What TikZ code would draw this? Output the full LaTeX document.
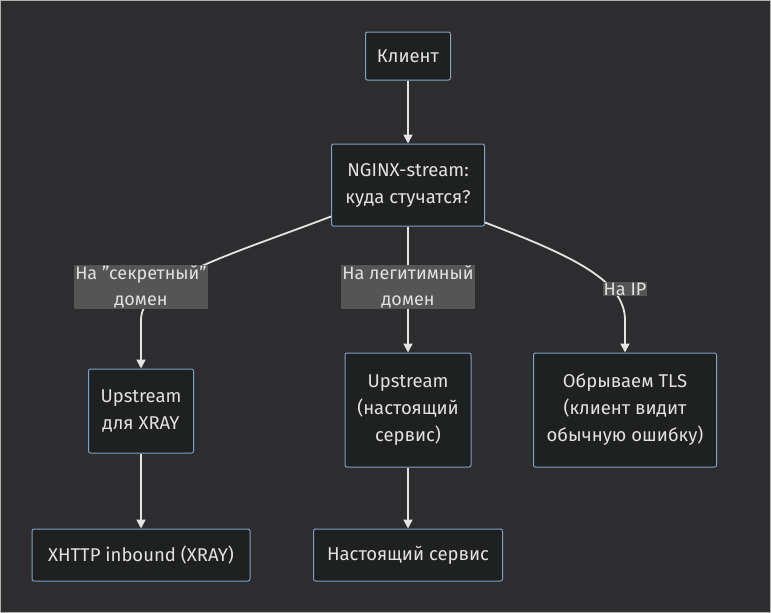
\documentclass[tikz,border=0pt]{standalone}
\usepackage{fontspec}
\setmainfont{Fira Sans}
\usetikzlibrary{arrows.meta, positioning}
\definecolor{canvas}{RGB}{45,45,48}
\definecolor{boxfill}{RGB}{31,32,32}
\definecolor{boxline}{RGB}{129,161,193}
\definecolor{ink}{RGB}{225,225,225}
\definecolor{tagbg}{RGB}{85,85,85}
\tikzset{
  block/.style={rectangle, rounded corners=2pt, draw=boxline, line width=1pt, fill=boxfill,
                text=ink, align=center, font=\fontsize{18.5}{27}\selectfont, inner sep=0pt},
  arrow/.style={-{Triangle[length=9pt,width=9pt]}, line width=1.8pt, color=ink!90},
  tag/.style={fill=tagbg, text=ink, align=center, inner sep=1pt,
              font=\fontsize{18}{26}\selectfont},
}
\begin{document}
\begin{tikzpicture}[x=1pt, y=-1pt]
  \fill[canvas] (0,0) rectangle (771,613);
  \draw[gray!60, line width=1pt] (0.5,0.5) rectangle (770.5,612.5);
  \useasboundingbox (0,0) rectangle (771,613);

  \node[block, minimum width=85pt, minimum height=48pt] (client) at (408,56) {Клиент};
  \node[block, minimum width=153pt, minimum height=82pt] (nginx) at (408,185) {NGINX-stream:\\куда стучатся?};
  \node[block, minimum width=105pt, minimum height=84pt] (upx) at (141,411) {Upstream\\для XRAY};
  \node[block, minimum width=126pt, minimum height=114pt] (upr) at (408,410) {Upstream\\(настоящий\\сервис)};
  \node[block, minimum width=183pt, minimum height=114pt] (drop) at (625,410) {Обрываем TLS\\(клиент видит\\обычную ошибку)};
  \node[block, minimum width=218pt, minimum height=52pt] (xhttp) at (141,555) {XHTTP inbound (XRAY)};
  \node[block, minimum width=189pt, minimum height=52pt] (real) at (408,555) {Настоящий сервис};

  \draw[arrow] (client) -- (nginx);
  \draw[arrow] (nginx.south west) ++(0,-10) .. controls (230,255) and (141,280) .. (141,320) -- (upx.north);
  \node[tag] at (141,287) {На \symbol{34}секретный\symbol{34}\\домен};
  \draw[arrow] (nginx) -- (upr);
  \node[tag] at (408,287) {На легитимный\\домен};
  \draw[arrow] (nginx.south east) ++(0,-4) .. controls (570,255) and (625,280) .. (625,320) -- (drop.north);
  \node[tag] at (625,289) {На IP};
  \draw[arrow] (upx) -- (xhttp);
  \draw[arrow] (upr) -- (real);
\end{tikzpicture}
\end{document}
